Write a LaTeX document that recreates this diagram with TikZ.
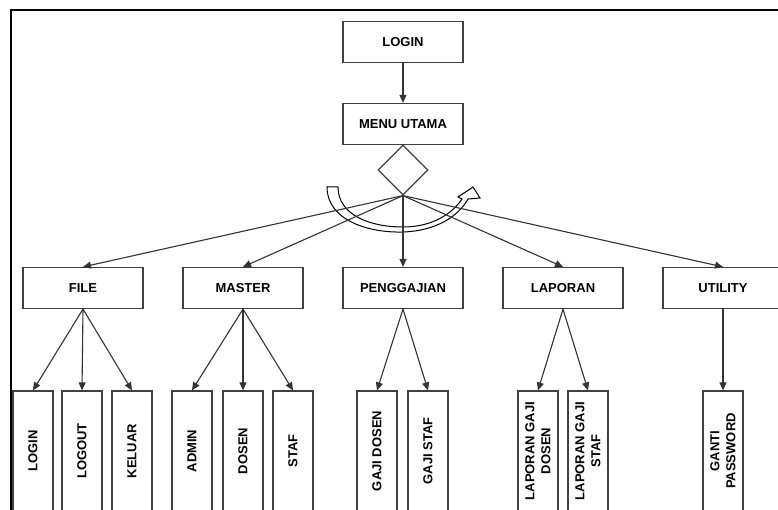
\documentclass[tikz,border=0pt]{standalone}
\usepackage{fontspec}
\setmainfont{Liberation Sans}
\usetikzlibrary{arrows.meta,shapes.geometric}
\tikzset{
	menubox/.style={draw=black!75, line width=1.2pt, minimum width=120pt, minimum height=41pt, inner sep=0pt,
		font=\fontsize{13}{15}\selectfont\bfseries},
	subbox/.style={draw=black!75, line width=1.2pt, rotate=90, minimum width=120pt, minimum height=40pt, inner sep=0pt,
		align=center, font=\fontsize{13}{16}\selectfont\bfseries},
	arr/.style={draw=black!80, line width=1.1pt, -{Triangle[length=8pt,width=7pt]}},
}
\begin{document}
\begin{tikzpicture}[x=1pt,y=-1pt]
		\useasboundingbox (0,0) rectangle (778,510);
		\clip (0,0) rectangle (778,510);
		\draw [line width=2.2pt] (11,510) -- (11,10) -- (778,10);
		% atas
		\node (login) [menubox] at (403,42) {LOGIN};
		\node (menu) [menubox] at (403,124) {MENU UTAMA};
		\node (pilih) [diamond, draw=black!75, line width=1.2pt, minimum width=50pt, minimum height=50pt, inner sep=0pt] at (403,170) {};
		\draw [arr] (login) -- (menu);
		\draw [draw=black!75, line width=1.2pt] (menu.south) -- (pilih.north);
		% panah lengkung
		\draw [line width=1pt] (327,187) .. controls (327,220) and (368,233) .. (403,232)
			.. controls (435,231) and (458,217) .. (468,199) -- (480,198) -- (473,187) -- (458,197) -- (462,199)
			.. controls (452,214) and (432,227) .. (403,227)
			.. controls (370,227) and (338,215) .. (338,187) -- cycle;
		% menu
		\node (file) [menubox] at (83,288) {FILE};
		\node (master) [menubox] at (243,288) {MASTER};
		\node (gaji) [menubox] at (403,288) {PENGGAJIAN};
		\node (laporan) [menubox] at (563,288) {LAPORAN};
		\node (utility) [menubox] at (723,288) {UTILITY};
		\foreach \m in {file,master,gaji,laporan,utility}
			\draw [arr] (pilih.south) -- (\m.north);
		% sub menu
		\node (flogin) [subbox] at (33,451) {LOGIN};
		\node (flogout) [subbox] at (82,451) {LOGOUT};
		\node (fkeluar) [subbox] at (132,451) {KELUAR};
		\node (madmin) [subbox] at (192,451) {ADMIN};
		\node (mdosen) [subbox] at (243,451) {DOSEN};
		\node (mstaf) [subbox] at (293,451) {STAF};
		\node (gdosen) [subbox] at (377,451) {GAJI DOSEN};
		\node (gstaf) [subbox] at (428,451) {GAJI STAF};
		\node (ldosen) [subbox] at (538,451) {LAPORAN GAJI\\DOSEN};
		\node (lstaf) [subbox] at (588,451) {LAPORAN GAJI\\STAF};
		\node (upass) [subbox] at (723,451) {GANTI\\PASSWORD};
		\foreach \a/\b in {file/flogin,file/flogout,file/fkeluar,master/madmin,master/mdosen,master/mstaf,
			gaji/gdosen,gaji/gstaf,laporan/ldosen,laporan/lstaf,utility/upass}
			\draw [arr] (\a.south) -- (\b.east);
		\end{tikzpicture}
\end{document}
